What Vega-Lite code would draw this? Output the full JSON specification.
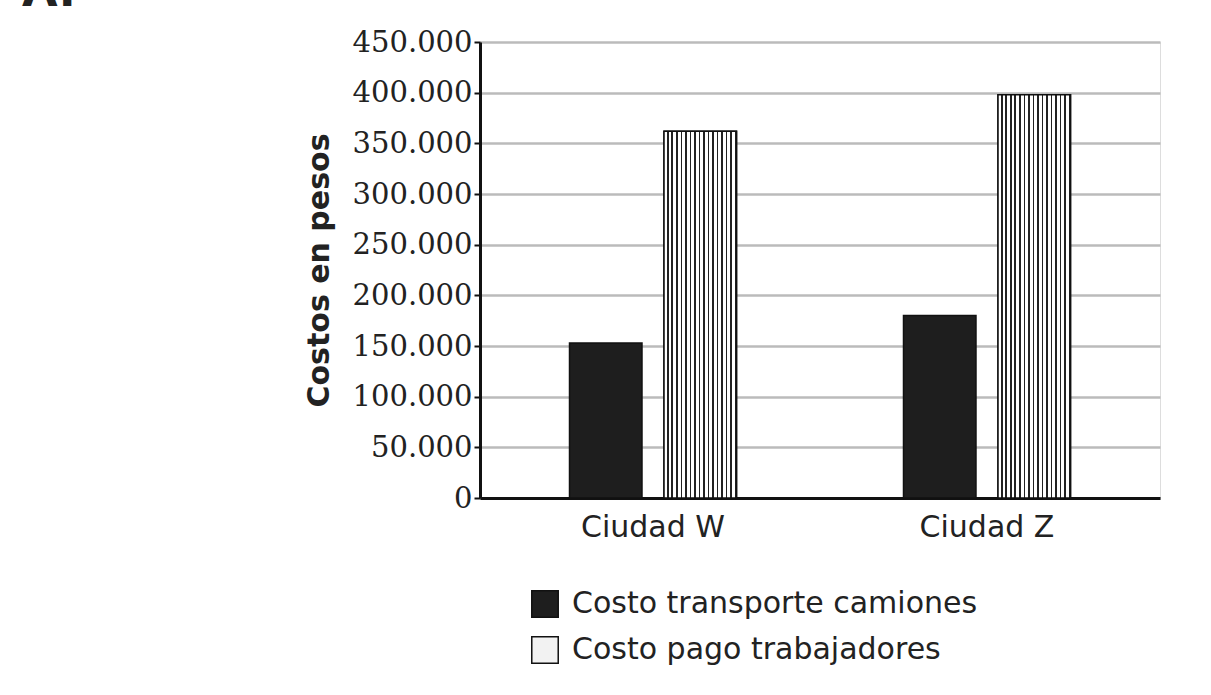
{
"$schema":"https://vega.github.io/schema/vega-lite/v6.json",
"width":680,"height":456,
"autosize":{"type":"none"},
"padding":{"left":480,"top":42,"right":51,"bottom":197},
"background":"white",
"title":{"text":"A.","anchor":"start","frame":"group","dx":-458,"dy":-8,"fontSize":46,"font":"DejaVu Sans","fontWeight":"bold","color":"#222"},
"data":{"values":[
{"ciudad":"Ciudad W","tipo":"Costo transporte camiones","costo":153000},
{"ciudad":"Ciudad W","tipo":"Costo pago trabajadores","costo":362000},
{"ciudad":"Ciudad Z","tipo":"Costo transporte camiones","costo":180000},
{"ciudad":"Ciudad Z","tipo":"Costo pago trabajadores","costo":398000}
]},
"encoding":{
"x":{"field":"ciudad","type":"nominal","scale":{"paddingInner":0.5,"paddingOuter":0.268},
 "axis":{"title":null,"labelAngle":0,"labelFont":"DejaVu Sans","labelFontSize":30,"labelColor":"#222","domainColor":"#111","domainWidth":3,"ticks":false,"labelPadding":14}},
"xOffset":{"field":"tipo","type":"nominal","sort":["Costo transporte camiones","Costo pago trabajadores"],"scale":{"paddingInner":0.233}},
"y":{"field":"costo","type":"quantitative","scale":{"domain":[0,450000]},
 "axis":{"title":"Costos en pesos","titleFont":"DejaVu Sans","titleFontSize":30,"titleFontWeight":"bold","titleColor":"#222","titlePadding":18,
  "values":[0,50000,100000,150000,200000,250000,300000,350000,400000,450000],
  "labelExpr":"replace(format(datum.value, ',d'), ',', '.')","labelFont":"DejaVu Serif","labelFontSize":29,"labelColor":"#222",
  "domainColor":"#111","domainWidth":3,"tickColor":"#111","tickSize":6,"tickWidth":2,"gridColor":"#bbb","gridWidth":2.5}}
},
"layer":[
{"mark":{"type":"bar","stroke":"#111","strokeWidth":1.5},
 "encoding":{"fill":{"field":"tipo","type":"nominal","sort":["Costo transporte camiones","Costo pago trabajadores"],
 "scale":{"domain":["Costo transporte camiones","Costo pago trabajadores"],"range":["#1e1e1e","#f2f2f2"]},
 "legend":{"title":null,"orient":"none","legendX":50,"legendY":547,"symbolType":"square","symbolSize":700,"symbolStrokeColor":"#111","symbolStrokeWidth":1.5,
  "labelFont":"DejaVu Sans","labelFontSize":30,"labelColor":"#222","rowPadding":12,"labelOffset":12,"labelLimit":700}}}},
{"transform":[{"filter":"datum.tipo === 'Costo pago trabajadores'"}],
 "mark":{"type":"bar","stroke":"#111","strokeWidth":1.5,"fill":
 {"gradient":"linear","x1":0,"y1":0,"x2":1,"y2":0,"stops":[
 {"offset":0,"color":"#fff"},{"offset":0.04,"color":"#fff"},{"offset":0.04,"color":"#222"},{"offset":0.0625,"color":"#222"},
 {"offset":0.0625,"color":"#fff"},{"offset":0.1025,"color":"#fff"},{"offset":0.1025,"color":"#222"},{"offset":0.125,"color":"#222"},
 {"offset":0.125,"color":"#fff"},{"offset":0.165,"color":"#fff"},{"offset":0.165,"color":"#222"},{"offset":0.1875,"color":"#222"},
 {"offset":0.1875,"color":"#fff"},{"offset":0.2275,"color":"#fff"},{"offset":0.2275,"color":"#222"},{"offset":0.25,"color":"#222"},
 {"offset":0.25,"color":"#fff"},{"offset":0.29,"color":"#fff"},{"offset":0.29,"color":"#222"},{"offset":0.3125,"color":"#222"},
 {"offset":0.3125,"color":"#fff"},{"offset":0.3525,"color":"#fff"},{"offset":0.3525,"color":"#222"},{"offset":0.375,"color":"#222"},
 {"offset":0.375,"color":"#fff"},{"offset":0.415,"color":"#fff"},{"offset":0.415,"color":"#222"},{"offset":0.4375,"color":"#222"},
 {"offset":0.4375,"color":"#fff"},{"offset":0.4775,"color":"#fff"},{"offset":0.4775,"color":"#222"},{"offset":0.5,"color":"#222"},
 {"offset":0.5,"color":"#fff"},{"offset":0.54,"color":"#fff"},{"offset":0.54,"color":"#222"},{"offset":0.5625,"color":"#222"},
 {"offset":0.5625,"color":"#fff"},{"offset":0.6025,"color":"#fff"},{"offset":0.6025,"color":"#222"},{"offset":0.625,"color":"#222"},
 {"offset":0.625,"color":"#fff"},{"offset":0.665,"color":"#fff"},{"offset":0.665,"color":"#222"},{"offset":0.6875,"color":"#222"},
 {"offset":0.6875,"color":"#fff"},{"offset":0.7275,"color":"#fff"},{"offset":0.7275,"color":"#222"},{"offset":0.75,"color":"#222"},
 {"offset":0.75,"color":"#fff"},{"offset":0.79,"color":"#fff"},{"offset":0.79,"color":"#222"},{"offset":0.8125,"color":"#222"},
 {"offset":0.8125,"color":"#fff"},{"offset":0.8525,"color":"#fff"},{"offset":0.8525,"color":"#222"},{"offset":0.875,"color":"#222"},
 {"offset":0.875,"color":"#fff"},{"offset":0.915,"color":"#fff"},{"offset":0.915,"color":"#222"},{"offset":0.9375,"color":"#222"},
 {"offset":0.9375,"color":"#fff"},{"offset":0.9775,"color":"#fff"},{"offset":0.9775,"color":"#222"},{"offset":1,"color":"#222"}]}}}
]
}
